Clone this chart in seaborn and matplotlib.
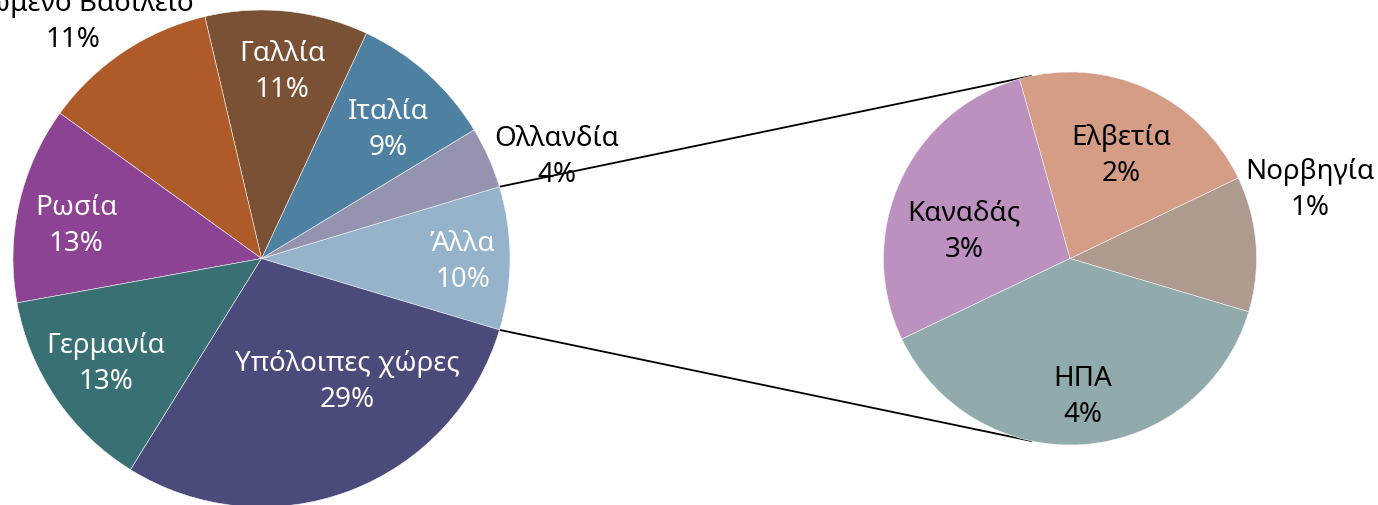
import matplotlib
matplotlib.use("Agg")
import matplotlib.pyplot as plt
import seaborn as sns
import numpy as np

# main pie (shares in %), counter-clockwise starting from "Άλλα"
main_labels = ["Άλλα", "Ολλανδία", "Ιταλία", "Γαλλία", "Ηνωμένο Βασίλειο",
               "Ρωσία", "Γερμανία", "Υπόλοιπες χώρες"]
main_values = [9.3, 4.0, 9.4, 10.6, 11.4, 12.8, 13.3, 29.2]
main_pcts = ["10%", "4%", "9%", "11%", "11%", "13%", "13%", "29%"]
main_colors = ["#95B3CA", "#9594B0", "#4E80A2", "#7A5134", "#AE5A29",
               "#8C4394", "#397073", "#4A4A7B"]

# breakdown of "Άλλα"
sub_labels = ["Νορβηγία", "Ελβετία", "Καναδάς", "ΗΠΑ"]
sub_values = [1.09, 2.07, 2.58, 3.56]
sub_pcts = ["1%", "2%", "3%", "4%"]
sub_colors = ["#AE9A8F", "#D59C86", "#BC91C0", "#91ABAD"]

W, H = 1378, 506

sns.set_style("white")
plt.rcParams['font.family'] = ['Noto Sans', 'DejaVu Sans']

fig = plt.figure(figsize=(W / 100, H / 100), dpi=100)
ax = fig.add_axes([0, 0, 1, 1])

# geometry in pixel units (y up)
c1, r1 = (261.5, H - 259.5), 248.5
c2, r2 = (1070.0, H - 259.5), 186.5
start1 = -16.7
start2 = -16.6

wp = dict(edgecolor="#f4f4f4", linewidth=0.4)
ax.pie(main_values, colors=main_colors, startangle=start1, counterclock=True,
       center=c1, radius=r1, wedgeprops=wp, frame=True)
ax.pie(sub_values, colors=sub_colors, startangle=start2, counterclock=True,
       center=c2, radius=r2, wedgeprops=wp, frame=True)

# connector lines from the edges of "Άλλα" to the second pie
half = main_values[0] / sum(main_values) * 180.0
for a1, a2 in [(start1 + 2 * half, 102.0), (start1, -102.0)]:
    p1 = (c1[0] + r1 * np.cos(np.radians(a1)), c1[1] + r1 * np.sin(np.radians(a1)))
    p2 = (c2[0] + r2 * np.cos(np.radians(a2)), c2[1] + r2 * np.sin(np.radians(a2)))
    ax.plot([p1[0], p2[0]], [p1[1], p2[1]], color="black", lw=1.3, zorder=0)

# label positions (image pixels)
main_pos = [(463, 262), (557, 157), (388, 130), (282, 72), (73, 22),
            (76, 226), (106, 364), (347, 382)]
main_tc = ["white", "black", "white", "white", "black", "white", "white", "white"]
sub_pos = [(1310, 190), (1121, 156), (964, 232), (1083, 397)]
sub_tc = ["black", "black", "black", "black"]

for lab, pct, (x, y), tc in zip(main_labels + sub_labels, main_pcts + sub_pcts,
                                main_pos + sub_pos, main_tc + sub_tc):
    ax.text(x, H - y, f"{lab}\n{pct}", ha="center", va="center",
            fontsize=20, color=tc, linespacing=1.4)

ax.set_xlim(0, W)
ax.set_ylim(0, H)
ax.set_aspect("equal")
ax.axis("off")

fig.savefig("out.png", dpi=100)
